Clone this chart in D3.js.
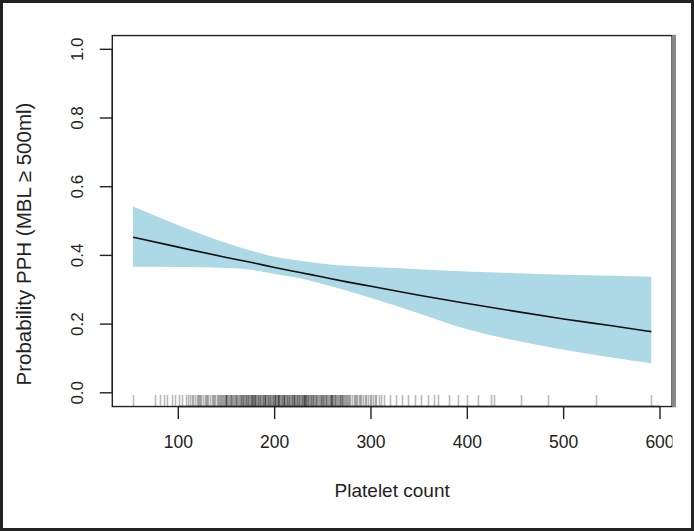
<!DOCTYPE html>
<html>
<head>
<meta charset="utf-8">
<script src="https://cdn.jsdelivr.net/npm/d3@7"></script>
<style>
  html, body { margin: 0; padding: 0; background: #fff; }
  svg { display: block; }
  text { font-family: "Liberation Sans", Arial, Helvetica, sans-serif; fill: #222; }
</style>
</head>
<body>
<svg id="chart" width="694" height="531"></svg>
<script>
// ---- data ----
const xGrid = [53, 100, 150, 175, 200, 225, 250, 275, 300, 350, 400, 450, 500, 550, 591];
const fitValues = [0.453, 0.424, 0.394, 0.380, 0.365, 0.351, 0.337, 0.323, 0.310, 0.284, 0.260, 0.237, 0.215, 0.195, 0.178];
const upperValues = [0.542, 0.488, 0.436, 0.414, 0.396, 0.385, 0.376, 0.370, 0.366, 0.360, 0.353, 0.348, 0.344, 0.341, 0.338];
const lowerValues = [0.367, 0.366, 0.363, 0.358, 0.346, 0.334, 0.317, 0.297, 0.276, 0.231, 0.185, 0.152, 0.125, 0.103, 0.086];
const xTicks = [100, 200, 300, 400, 500, 600];
const yTicks = [0.0, 0.2, 0.4, 0.6, 0.8, 1.0];
const xTitle = "Platelet count";
const yTitle = "Probability PPH (MBL \u2265 500ml)";
const rugValues = [
  53,
  76, 81, 85, 88, 93, 97,
  101, 104, 108, 110, 112, 114, 115, 117, 119, 120, 121, 123, 124, 126, 128, 129, 130, 131, 133, 135, 136, 137, 138, 140,
  141, 142, 143, 144, 145, 146, 147, 148, 149, 150, 150, 151, 152, 153, 154, 155, 155, 156, 157, 158, 159, 160, 160,
  161, 162, 163, 164, 165, 165, 166, 167, 168, 169, 170, 170, 171, 172, 173, 174, 175, 175, 176, 177, 178, 179,
  180, 180, 180, 181, 182, 183, 184, 185, 185, 186, 187, 188, 189, 190, 190, 190, 191, 192, 193, 194, 195, 195,
  196, 197, 198, 199, 200, 200, 200, 201, 202, 203, 204, 205, 205, 206, 207, 208, 209, 210, 210, 210, 211, 212,
  213, 214, 215, 215, 216, 217, 218, 219, 220, 220, 220, 221, 222, 223, 224, 225, 225, 226, 227, 228, 229, 230,
  230, 230, 231, 232, 233, 234, 235, 235, 236, 237, 238, 239, 240, 240,
  167, 172, 178, 183, 188, 193, 198, 203, 208, 213, 218, 223, 228, 233, 238, 243, 248, 253, 258, 263, 268,
  241, 242, 243, 244, 245, 246, 247, 248, 249, 250, 250, 251, 252, 253, 254, 255, 256, 257, 258, 259, 260, 260,
  261, 262, 263, 264, 265, 266, 267, 268, 269, 270, 270, 271, 272, 273, 274, 275, 276, 277, 278, 280,
  282, 283, 284, 286, 288, 289, 290, 292, 294, 295, 297, 299, 300, 302, 304, 305, 308, 310, 313,
  320, 326, 332, 338, 346, 352, 359, 365, 370, 381, 390, 400, 411, 425, 428, 456, 484, 534, 591
];

// ---- layout ----
const svg = d3.select("#chart");
const x = d3.scaleLinear().domain([100, 600]).range([178.3, 660]);
const y = d3.scaleLinear().domain([0, 1]).range([392.8, 49.3]);
const xMin = d3.min(xGrid), xMax = d3.max(xGrid);
const xPad = (xMax - xMin) * 0.04;
const boxL = x(xMin - xPad), boxR = x(xMax + xPad);
const boxT = y(1.04), boxB = y(-0.04);

const defs = svg.append("defs");
defs.append("clipPath").attr("id", "figclip")
  .append("rect").attr("x", 0).attr("y", 0).attr("width", 676).attr("height", 531);
defs.append("clipPath").attr("id", "labelclip")
  .append("rect").attr("x", 0).attr("y", 0).attr("width", 672.5).attr("height", 531);
defs.append("clipPath").attr("id", "plotclip")
  .append("rect").attr("x", boxL).attr("y", boxT).attr("width", boxR - boxL).attr("height", boxB - boxT);

const fig = svg.append("g").attr("clip-path", "url(#figclip)");
const rows = xGrid.map((v, i) => ({ x: v, fit: fitValues[i], lo: lowerValues[i], hi: upperValues[i] }));

const plot = fig.append("g").attr("clip-path", "url(#plotclip)");
plot.append("path")
  .datum(rows)
  .attr("fill", "#add8e6")
  .attr("d", d3.area().x(d => x(d.x)).y0(d => y(d.lo)).y1(d => y(d.hi)).curve(d3.curveMonotoneX));
plot.append("path")
  .datum(rows)
  .attr("fill", "none")
  .attr("stroke", "#111")
  .attr("stroke-width", 1.6)
  .attr("d", d3.line().x(d => x(d.x)).y(d => y(d.fit)).curve(d3.curveMonotoneX));

// rug
plot.append("g").selectAll("line").data(rugValues).join("line")
  .attr("x1", d => Math.round(x(d)) + 0.5).attr("x2", d => Math.round(x(d)) + 0.5)
  .attr("y1", boxB - 11.5).attr("y2", boxB)
  .attr("stroke", "#000").attr("stroke-opacity", 0.27).attr("stroke-width", 1.6);

// box
fig.append("rect")
  .attr("x", boxL).attr("y", boxT).attr("width", boxR - boxL).attr("height", boxB - boxT)
  .attr("fill", "none").attr("stroke", "#222").attr("stroke-width", 1.4);
fig.append("rect")
  .attr("x", boxR).attr("y", boxT - 0.7).attr("width", 4.5).attr("height", boxB - boxT + 1.4)
  .attr("fill", "#8a8a8a");

// x axis
const xAxis = fig.append("g");
xAxis.append("line").attr("x1", x(100)).attr("x2", x(600)).attr("y1", boxB).attr("y2", boxB)
  .attr("stroke", "#222").attr("stroke-width", 1.4);
xAxis.selectAll("line.tick").data(xTicks).join("line").attr("class", "tick")
  .attr("x1", d => x(d)).attr("x2", d => x(d)).attr("y1", boxB).attr("y2", boxB + 12.5)
  .attr("stroke", "#222").attr("stroke-width", 1.4);
xAxis.append("g").attr("clip-path", "url(#labelclip)")
  .selectAll("text").data(xTicks).join("text")
  .attr("x", d => x(d)).attr("y", 448).attr("text-anchor", "middle")
  .attr("font-size", 17.5).text(d => d3.format("d")(d));

// y axis
const yAxis = fig.append("g");
yAxis.append("line").attr("x1", boxL).attr("x2", boxL).attr("y1", y(0)).attr("y2", y(1))
  .attr("stroke", "#222").attr("stroke-width", 1.4);
yAxis.selectAll("line.tick").data(yTicks).join("line").attr("class", "tick")
  .attr("x1", boxL - 12.5).attr("x2", boxL).attr("y1", d => y(d)).attr("y2", d => y(d))
  .attr("stroke", "#222").attr("stroke-width", 1.4);
yAxis.selectAll("text").data(yTicks).join("text")
  .attr("transform", d => `translate(82.5,${y(d)}) rotate(-90)`)
  .attr("text-anchor", "middle").attr("font-size", 17)
  .text(d => d3.format(".1f")(d));

// titles
fig.append("text").attr("x", (boxL + boxR) / 2).attr("y", 497).attr("text-anchor", "middle")
  .attr("font-size", 19).text(xTitle);
fig.append("text").attr("transform", `translate(31,${(boxT + boxB) / 2 + 23}) rotate(-90)`)
  .attr("text-anchor", "middle").attr("font-size", 20.5).text(yTitle);

// outer frame
svg.append("rect").attr("x", 1.5).attr("y", 1.5).attr("width", 691).attr("height", 528)
  .attr("fill", "none").attr("stroke", "#222").attr("stroke-width", 3);
</script>
</body>
</html>
